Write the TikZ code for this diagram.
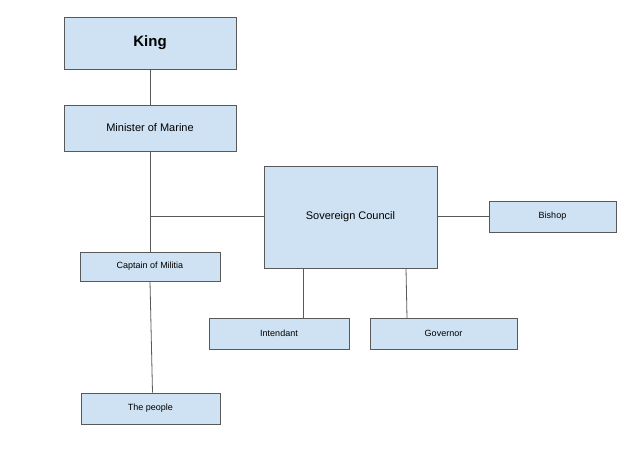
\documentclass[tikz,border=0pt]{standalone}
\usepackage{fontspec}
\setmainfont{Liberation Sans}
\definecolor{boxfill}{HTML}{CFE2F3}
\definecolor{edge}{HTML}{595959}
\begin{document}
\begin{tikzpicture}[x=1pt,y=-1pt,
  box/.style={draw=edge,fill=boxfill,line width=0.8pt,inner sep=0pt},
  conn/.style={draw=edge,line width=0.8pt}]
\useasboundingbox (0,0) rectangle (640,476);
\node[box,minimum width=172pt,minimum height=52pt,font=\fontsize{15}{18}\selectfont\bfseries] (king) at (150,43) {King};
\node[box,minimum width=172pt,minimum height=46pt,font=\fontsize{11}{13}\selectfont] (min) at (150,128) {Minister of Marine};
\node[box,minimum width=173pt,minimum height=102pt,font=\fontsize{11}{13}\selectfont] (sc) at (350.5,217) {Sovereign Council};
\node[box,minimum width=127pt,minimum height=31pt,font=\fontsize{9}{11}\selectfont] (bishop) at (552.5,216.5) {Bishop};
\node[box,minimum width=140pt,minimum height=29pt,font=\fontsize{9}{11}\selectfont] (cap) at (150,266.5) {Captain of Militia};
\node[box,minimum width=140pt,minimum height=31pt,font=\fontsize{9}{11}\selectfont] (int) at (279,333.5) {Intendant};
\node[box,minimum width=147pt,minimum height=31pt,font=\fontsize{9}{11}\selectfont] (gov) at (443.5,333.5) {Governor};
\node[box,minimum width=139pt,minimum height=31pt,font=\fontsize{9}{11}\selectfont] (ppl) at (150.5,408.5) {The people};
\coordinate (j) at (150,216);
\draw[conn] (king.south) -- (min.south |- king.south) -- (min.north);
\draw[conn] (min.south) -- (cap.north);
\draw[conn] (j) -- (j -| sc.west);
\draw[conn] (sc.east |- bishop.west) -- (bishop.west);
\draw[conn] (cap.south) -- ([xshift=2pt]ppl.north);
\draw[conn] (int.north -| 303,0) -- (303,268);
\draw[conn] (406,268) -- (407,318);
\end{tikzpicture}
\end{document}
